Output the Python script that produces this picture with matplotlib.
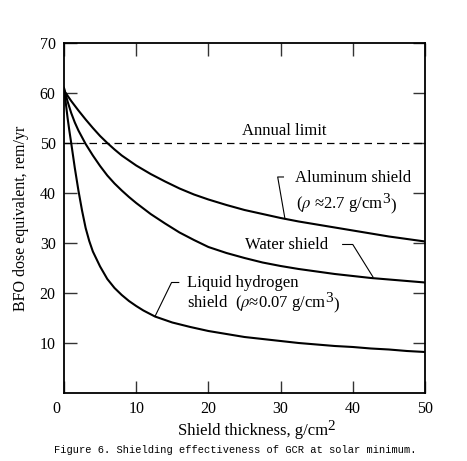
import numpy as np
import matplotlib.pyplot as plt
from matplotlib.transforms import ScaledTranslation

# values (shield thickness g/cm^2 -> dose rem/yr)
al_x = [0, 1, 2, 3, 4, 5, 6, 7, 8, 9, 10, 12, 14, 16, 18, 20, 22.5, 25, 27.5, 30, 32.5, 35, 37.5, 40, 42.5, 45, 47.5, 50]
al_y = [60.5, 58.4, 56.5, 54.7, 53.0, 51.4, 50.0, 48.7, 47.5, 46.5, 45.5, 43.8, 42.3, 40.9, 39.7, 38.7, 37.6, 36.6, 35.8, 35.0, 34.3, 33.7, 33.1, 32.5, 31.9, 31.3, 30.8, 30.3]

wa_x = [0, 0.5, 1, 1.5, 2, 3, 4, 5, 6, 7, 8, 9, 10, 12, 14, 16, 18, 20, 22.5, 25, 27.5, 30, 32.5, 35, 37.5, 40, 42.5, 45, 47.5, 50]
wa_y = [61.0, 58.3, 56.0, 54.1, 52.5, 49.8, 47.5, 45.4, 43.5, 41.9, 40.5, 39.2, 38.0, 35.8, 33.9, 32.1, 30.6, 29.2, 28.0, 27.0, 26.1, 25.4, 24.8, 24.3, 23.8, 23.4, 23.0, 22.7, 22.4, 22.1]

lh_x = [0, 0.25, 0.5, 0.75, 1, 1.5, 2, 2.5, 3, 3.5, 4, 5, 6, 7, 8, 9, 10, 11, 12.6, 15, 17.5, 20, 22.5, 25, 27.5, 30, 32.5, 35, 37.5, 40, 42.5, 45, 47.5, 50]
lh_y = [61.0, 58.0, 55.0, 52.4, 50.0, 45.0, 40.5, 36.5, 33.0, 30.4, 28.3, 25.3, 22.8, 21.0, 19.6, 18.4, 17.4, 16.5, 15.3, 14.1, 13.2, 12.4, 11.8, 11.2, 10.8, 10.4, 10.0, 9.7, 9.4, 9.2, 8.9, 8.7, 8.4, 8.2]

xticks = [0, 10, 20, 30, 40, 50]
yticks = [10, 20, 30, 40, 50, 60, 70]
annual_limit = 50

plt.rcParams['font.family'] = ['Liberation Serif', 'DejaVu Serif']
plt.rcParams['mathtext.fontset'] = 'stix'
FS = 12


def raise_power(base, power, size, dx=-0.5, dy=1):
    # full-size raised exponent placed after the end of `base`
    return ax.annotate(power, xy=(1, 1), xycoords=base, xytext=(dx, dy),
                       textcoords='offset points', fontsize=size, ha='left', va='top')


def with_power(x, y, before, power, after):
    t1 = ax.text(x, y, before, fontsize=FS, ha='left', va='center')
    t2 = raise_power(t1, power, FS - 1)
    ax.annotate(after, xy=(1, 0), xycoords=(t2, t1), xytext=(0.5, 0),
                textcoords='offset points', fontsize=FS, ha='left', va='bottom')


fig = plt.figure(figsize=(4.67, 4.61), dpi=100)
ax = fig.add_axes([0.137, 0.1475, 0.773, 0.7593])

ax.plot(al_x, al_y, color='black', lw=1.5)
ax.plot(wa_x, wa_y, color='black', lw=1.5)
ax.plot(lh_x, lh_y, color='black', lw=1.5)
ax.axhline(annual_limit, color='black', lw=0.9, dashes=(6, 4))

ax.set_xlim(0, 50)
ax.set_ylim(0, 70)
ax.set_xticks(xticks)
ax.set_yticks(yticks)
ax.tick_params(direction='in', length=9, width=1.0, labelsize=11.5, pad=6,
               top=True, right=True, color='#333333')
for s in ax.spines.values():
    s.set_linewidth(1.3)

# the 0 on the x axis sits a little left of the corner
lab0 = ax.get_xticklabels()[0]
lab0.set_transform(lab0.get_transform() + ScaledTranslation(-8 / 100, 0, fig.dpi_scale_trans))

ax.set_ylabel('BFO dose equivalent, rem/yr', fontsize=11.5, labelpad=8)
xl = ax.set_xlabel('Shield thickness, g/cm', fontsize=12, labelpad=5)
ax.xaxis.set_label_coords(0.525, -0.085)
raise_power(xl, '2', 11, dx=-0.5, dy=2)

ax.text(30.5, 52.3, 'Annual limit', fontsize=FS, ha='center', va='center')

ax.text(32.0, 43.0, 'Aluminum shield', fontsize=FS, ha='left', va='center')
with_power(32.1, 37.8, '($\\rho$ \u22482.7 g/cm', '3', ')')
ax.plot([30.4, 29.6, 30.6], [43.2, 43.2, 34.9], color='black', lw=0.8)

ax.text(25.1, 29.5, 'Water shield', fontsize=FS, ha='left', va='center')
ax.plot([38.6, 40.0, 42.8], [29.7, 29.7, 23.2], color='black', lw=0.8)

ax.text(17.0, 22.0, 'Liquid hydrogen', fontsize=FS, ha='left', va='center')
with_power(17.0, 17.9, 'shield  ($\\rho$\u22480.07 g/cm', '3', ')')
ax.plot([15.9, 14.9, 12.6], [22.1, 22.1, 15.3], color='black', lw=0.8)

fig.text(0.116, 0.024, 'Figure 6. Shielding effectiveness of GCR at solar minimum.',
         family=['Liberation Mono', 'DejaVu Sans Mono'], fontsize=7.5, ha='left', va='center')

fig.savefig('out.png', dpi=100)
